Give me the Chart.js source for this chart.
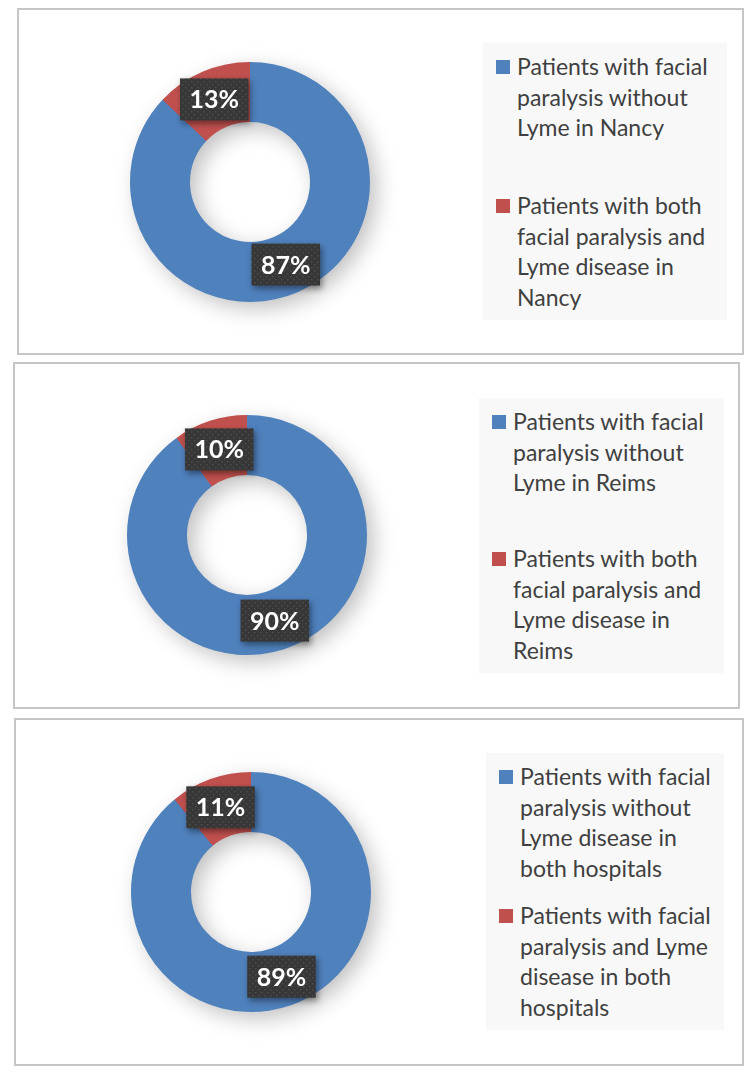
<!DOCTYPE html>
<html>
<head>
<meta charset="utf-8">
<script src="https://cdn.jsdelivr.net/npm/chart.js@4/dist/chart.umd.min.js"></script>
<style>
  html, body { margin: 0; padding: 0; background: #fff; }
  body { position: relative; width: 750px; height: 1085px; overflow: hidden; font-family: Lato, "Open Sans", sans-serif; }
  .panel { position: absolute; box-sizing: border-box; border: 2px solid #c6c6c6; background: #fff; }
  .donut { position: absolute; }
  .legend {
    position: absolute; box-sizing: border-box; background: #f8f8f8;
    display: flex; flex-direction: column; justify-content: space-between;
    padding: 8px 6px 8px 13px;
  }
  .legend-item { display: flex; align-items: flex-start; }
  .legend-mark { flex: none; width: 14px; height: 14px; margin-top: 9px; margin-right: 7px; }
  .legend-text { color: #404040; font-size: 23px; line-height: 30.5px; white-space: nowrap; }
</style>
</head>
<body>

<script>
const sliceColors = ['#4F81BD', '#C0504D'];

const nancyLabels = [
  ['Patients with facial', 'paralysis without', 'Lyme in Nancy'],
  ['Patients with both', 'facial paralysis and', 'Lyme disease in', 'Nancy'],
];
const nancyValues = [87, 13];

const reimsLabels = [
  ['Patients with facial', 'paralysis without', 'Lyme in Reims'],
  ['Patients with both', 'facial paralysis and', 'Lyme disease in', 'Reims'],
];
const reimsValues = [90, 10];

const bothLabels = [
  ['Patients with facial', 'paralysis without', 'Lyme disease in', 'both hospitals'],
  ['Patients with facial', 'paralysis and Lyme', 'disease in both', 'hospitals'],
];
const bothValues = [89, 11];

// page layout (px)
const panels = [
  { box: [17, 8, 727, 347], center: [250, 182], legend: [483, 43, 244, 277], labels: nancyLabels, values: nancyValues },
  { box: [13, 362, 727, 347], center: [247, 535], legend: [479, 398, 245, 275], labels: reimsLabels, values: reimsValues },
  { box: [14, 718, 730, 348], center: [251, 892], legend: [486, 753, 238, 277], labels: bothLabels, values: bothValues },
];

const CANVAS_SIZE = 300;

function makeBoxPattern(ctx) {
  const tile = document.createElement('canvas');
  tile.width = 6;
  tile.height = 6;
  const t = tile.getContext('2d');
  t.fillStyle = '#373737';
  t.fillRect(0, 0, 6, 6);
  t.fillStyle = '#4d4d4d';
  t.fillRect(1, 1, 1.5, 1.5);
  t.fillRect(4, 4, 1.5, 1.5);
  return ctx.createPattern(tile, 'repeat');
}

const ringShadow = {
  id: 'ringShadow',
  beforeDatasetsDraw(chart) {
    const arc = chart.getDatasetMeta(0).data[0];
    if (!arc) return;
    const { x, y, innerRadius, outerRadius } = arc.getProps(['x', 'y', 'innerRadius', 'outerRadius'], true);
    const ctx = chart.ctx;
    ctx.save();
    ctx.shadowColor = 'rgba(0, 0, 0, 0.26)';
    ctx.shadowBlur = 22;
    ctx.shadowOffsetX = 7;
    ctx.shadowOffsetY = 7;
    ctx.fillStyle = sliceColors[0];
    ctx.beginPath();
    ctx.arc(x, y, outerRadius - 1, 0, Math.PI * 2);
    ctx.arc(x, y, innerRadius + 1, 0, Math.PI * 2, true);
    ctx.fill();
    ctx.restore();
  },
};

const sliceLabels = {
  id: 'sliceLabels',
  afterDatasetsDraw(chart) {
    const ctx = chart.ctx;
    const values = chart.data.datasets[0].data;
    const total = values.reduce((sum, v) => sum + v, 0);
    const pattern = makeBoxPattern(ctx);
    chart.getDatasetMeta(0).data.forEach((arc, i) => {
      const pos = arc.tooltipPosition(true);
      const text = `${Math.round((values[i] / total) * 100)}%`;
      ctx.save();
      ctx.font = 'bold 25px Lato, "Open Sans", sans-serif';
      const w = ctx.measureText(text).width + 19;
      const h = 42;
      ctx.shadowColor = 'rgba(0, 0, 0, 0.45)';
      ctx.shadowBlur = 6;
      ctx.shadowOffsetX = 2;
      ctx.shadowOffsetY = 3;
      ctx.fillStyle = pattern;
      ctx.fillRect(pos.x - w / 2, pos.y - h / 2, w, h);
      ctx.shadowColor = 'transparent';
      ctx.fillStyle = '#ffffff';
      ctx.textAlign = 'center';
      ctx.textBaseline = 'middle';
      ctx.fillText(text, pos.x, pos.y + 1);
      ctx.restore();
    });
  },
};

function renderPanel(p) {
  const [bx, by, bw, bh] = p.box;
  const panel = document.createElement('div');
  panel.className = 'panel';
  panel.style.cssText = `left:${bx}px;top:${by}px;width:${bw}px;height:${bh}px;`;
  document.body.appendChild(panel);

  const canvas = document.createElement('canvas');
  canvas.className = 'donut';
  canvas.width = CANVAS_SIZE;
  canvas.height = CANVAS_SIZE;
  canvas.style.cssText = `left:${p.center[0] - CANVAS_SIZE / 2}px;top:${p.center[1] - CANVAS_SIZE / 2}px;width:${CANVAS_SIZE}px;height:${CANVAS_SIZE}px;`;
  document.body.appendChild(canvas);

  const [lx, ly, lw, lh] = p.legend;
  const legend = document.createElement('div');
  legend.className = 'legend';
  legend.style.cssText = `left:${lx}px;top:${ly}px;width:${lw}px;height:${lh}px;`;
  p.labels.forEach((lines, i) => {
    const item = document.createElement('div');
    item.className = 'legend-item';
    item.innerHTML = `
      <span class="legend-mark" style="background:${sliceColors[i]}"></span>
      <span class="legend-text">${lines.join('<br>')}</span>
    `;
    legend.appendChild(item);
  });
  document.body.appendChild(legend);

  new Chart(canvas.getContext('2d'), {
    type: 'doughnut',
    data: {
      labels: p.labels.map((lines) => lines.join(' ')),
      datasets: [{
        data: p.values,
        backgroundColor: sliceColors,
        borderWidth: 0,
      }],
    },
    options: {
      responsive: false,
      animation: false,
      cutout: '50%',
      layout: { padding: 30 },
      plugins: {
        legend: { display: false },
        tooltip: { enabled: false },
      },
    },
    plugins: [ringShadow, sliceLabels],
  });
}

panels.forEach(renderPanel);
</script>
</body>
</html>
